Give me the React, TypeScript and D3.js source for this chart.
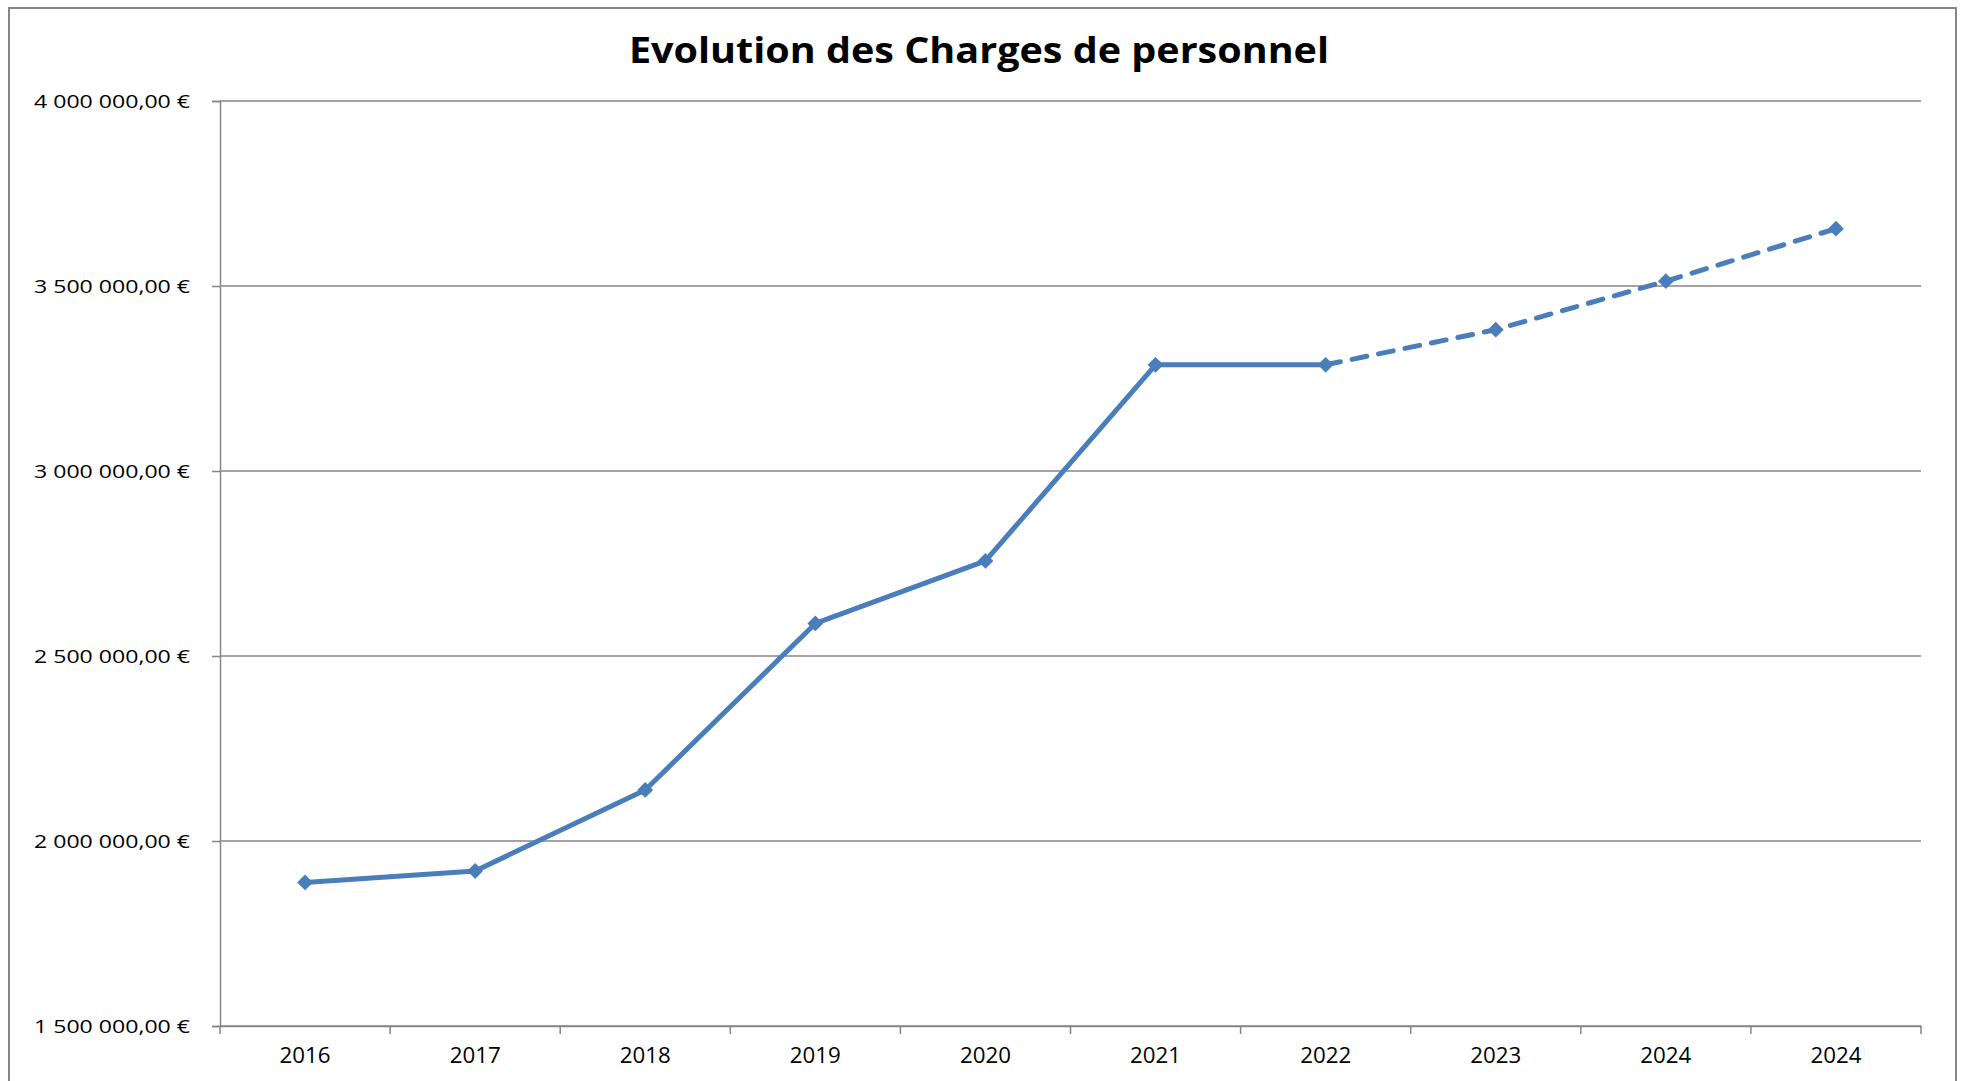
import React, { useEffect, useRef } from 'react';
import * as d3 from 'd3';

// categories and values
const years = ['2016', '2017', '2018', '2019', '2020', '2021', '2022', '2023', '2024', '2024 '];
const charges = [1888000, 1919000, 2138000, 2588000, 2757000, 3287000, 3287000, 3382000, 3513000, 3655000];
const lastActual = 6; // index of 2022, after this the line is dashed
const yTicks = [1500000, 2000000, 2500000, 3000000, 3500000, 4000000];

const fmt = (v: number) => {
  const s = d3.format(',.2f')(v);
  return s.replace(/,/g, ' ').replace('.', ',') + ' €';
};

export default function App() {
  const ref = useRef<SVGSVGElement>(null);

  useEffect(() => {
    const svg = d3.select(ref.current);
    svg.selectAll('*').remove();

    const W = 1961, H = 1081;
    const margin = { top: 101, right: 40, bottom: 55, left: 220 };
    const w = W - margin.left - margin.right;
    const h = H - margin.top - margin.bottom;

    svg.append('rect').attr('width', W).attr('height', H).attr('fill', '#fff');
    // chart frame
    svg.append('rect')
      .attr('x', 9).attr('y', 8).attr('width', W - 14).attr('height', H + 20)
      .attr('fill', 'none').attr('stroke', '#868686').attr('stroke-width', 2);

    // the source picture is stretched sideways, so texts get a textLength
    svg.append('text')
      .attr('x', 979).attr('y', 63)
      .attr('text-anchor', 'middle')
      .attr('textLength', 700).attr('lengthAdjust', 'spacingAndGlyphs')
      .style('font-family', '"Open Sans", sans-serif')
      .style('font-weight', 'bold')
      .style('font-size', '35px')
      .text('Evolution des Charges de personnel');

    const g = svg.append('g').attr('transform', `translate(${margin.left}, ${margin.top})`);

    const x = d3.scaleBand().domain(years).range([0, w]);
    const y = d3.scaleLinear().domain([1500000, 4000000]).range([h, 0]);

    // gridlines
    g.selectAll('.grid').data(yTicks).join('line')
      .attr('x1', 0).attr('x2', w)
      .attr('y1', d => y(d)).attr('y2', d => y(d))
      .attr('stroke', '#868686').attr('stroke-width', 1.5);

    // y axis
    const yAxis = g.append('g')
      .call(d3.axisLeft(y).tickValues(yTicks).tickSize(8).tickFormat(d => fmt(+d)));
    yAxis.select('.domain').attr('stroke', '#868686').attr('stroke-width', 1.5);
    yAxis.selectAll('.tick line').attr('stroke', '#868686').attr('stroke-width', 1.5);
    yAxis.selectAll('.tick text')
      .attr('x', -30)
      .attr('textLength', 156).attr('lengthAdjust', 'spacingAndGlyphs')
      .style('font-family', '"Open Sans", sans-serif')
      .style('font-size', '19px')
      .attr('fill', '#000');

    // x axis, ticks on category boundaries
    const xAxis = g.append('g').attr('transform', `translate(0, ${h})`)
      .call(d3.axisBottom(x).tickSize(0).tickSizeOuter(0));
    xAxis.select('.domain').attr('stroke', '#868686').attr('stroke-width', 1.5);
    xAxis.selectAll('.tick text')
      .attr('y', 22)
      .attr('textLength', 51).attr('lengthAdjust', 'spacingAndGlyphs')
      .style('font-family', '"Open Sans", sans-serif')
      .style('font-size', '21px')
      .attr('fill', '#000');
    g.selectAll('.xtick').data(d3.range(years.length + 1)).join('line')
      .attr('x1', i => i * x.bandwidth()).attr('x2', i => i * x.bandwidth())
      .attr('y1', h).attr('y2', h + 8)
      .attr('stroke', '#868686').attr('stroke-width', 1.5);

    const pts = years.map((yr, i) => ({ yr, v: charges[i], i }));
    const line = d3.line<any>()
      .x(d => (x(d.yr) as number) + x.bandwidth() / 2)
      .y(d => y(d.v));

    g.append('path')
      .datum(pts.filter(d => d.i <= lastActual))
      .attr('d', line)
      .attr('fill', 'none').attr('stroke', '#4a7ebb').attr('stroke-width', 5)
      .attr('stroke-linejoin', 'round');

    g.append('path')
      .datum(pts.filter(d => d.i >= lastActual))
      .attr('d', line)
      .attr('fill', 'none').attr('stroke', '#4a7ebb').attr('stroke-width', 5)
      .attr('stroke-dasharray', '15 12')
      .attr('stroke-linecap', 'round');

    g.selectAll('.marker').data(pts).join('path')
      .attr('d', d3.symbol(d3.symbolDiamond2, 160))
      .attr('transform', d => `translate(${(x(d.yr) as number) + x.bandwidth() / 2}, ${y(d.v)})`)
      .attr('fill', '#4a7ebb');
  }, []);

  return <svg ref={ref} width={1961} height={1081}
    style={{ position: 'absolute', left: 0, top: 0 }} />;
}
